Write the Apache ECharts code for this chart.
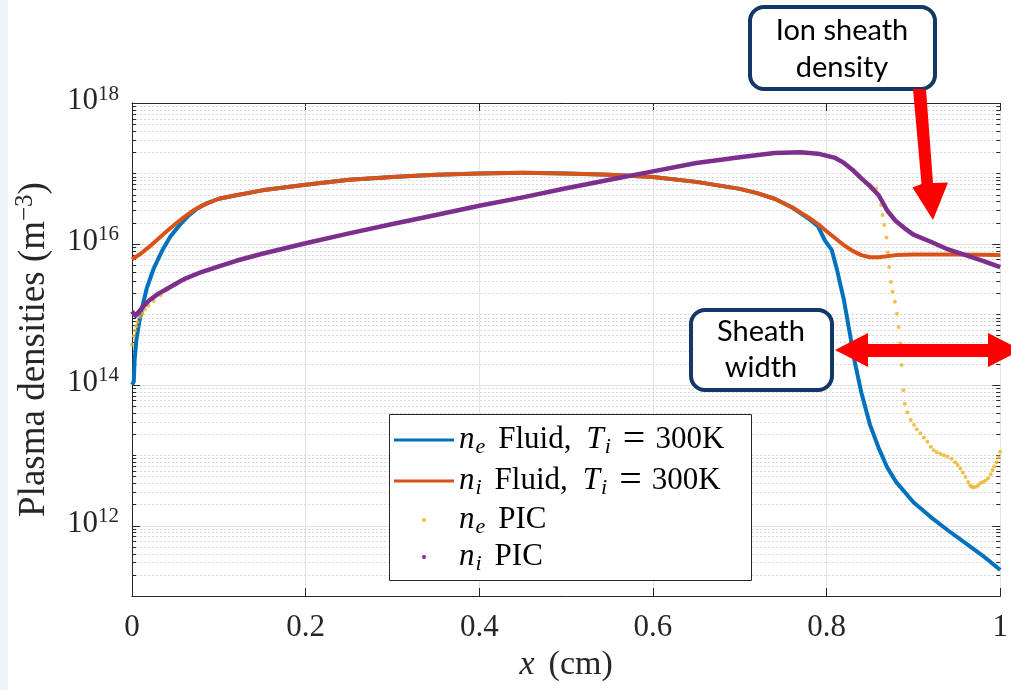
<!DOCTYPE html>
<html><head><meta charset="utf-8">
<script src="https://cdn.jsdelivr.net/npm/echarts@6/dist/echarts.min.js"></script>
<style>html,body{margin:0;padding:0;background:#fff}#c{width:1011px;height:690px}</style>
</head><body><div id="c"></div>
<script>
// ---------- data (x in cm, densities in m^-3) ----------
const neFluidX = [0, 0.002, 0.003, 0.005, 0.008, 0.012, 0.017, 0.025, 0.035, 0.044, 0.055, 0.065, 0.075, 0.085, 0.1, 0.12, 0.15, 0.2, 0.25, 0.3, 0.35, 0.4, 0.45, 0.5, 0.55, 0.6, 0.65, 0.7, 0.72, 0.74, 0.76, 0.78, 0.79, 0.798, 0.806, 0.812, 0.82, 0.826, 0.832, 0.84, 0.85, 0.86, 0.87, 0.88, 0.9, 0.92, 0.94, 0.96, 0.98, 1.0];
const neFluidY = [1.00e14, 1.10e14, 2.24e14, 4.27e14, 7.41e14, 1.29e15, 2.34e15, 4.47e15, 8.13e15, 1.26e16, 1.86e16, 2.51e16, 3.16e16, 3.72e16, 4.37e16, 4.90e16, 5.75e16, 6.92e16, 8.13e16, 8.91e16, 9.55e16, 1.00e17, 1.02e17, 1.00e17, 9.55e16, 8.91e16, 7.59e16, 6.03e16, 5.25e16, 4.37e16, 3.31e16, 2.24e16, 1.78e16, 1.12e16, 8.13e15, 4.27e15, 1.58e15, 6.03e14, 2.24e14, 7.76e13, 2.69e13, 1.26e13, 6.61e12, 4.17e12, 2.14e12, 1.32e12, 8.51e11, 5.62e11, 3.72e11, 2.34e11];

const niFluidX = [0, 0.01, 0.02, 0.03, 0.04, 0.05, 0.06, 0.07, 0.08, 0.1, 0.12, 0.15, 0.2, 0.25, 0.3, 0.35, 0.4, 0.45, 0.5, 0.55, 0.6, 0.65, 0.7, 0.72, 0.74, 0.76, 0.78, 0.79, 0.8, 0.81, 0.82, 0.83, 0.84, 0.85, 0.86, 0.88, 0.9, 0.95, 1.0];
const niFluidY = [6.03e15, 7.24e15, 9.12e15, 1.17e16, 1.51e16, 1.91e16, 2.40e16, 2.95e16, 3.47e16, 4.37e16, 4.90e16, 5.75e16, 6.92e16, 8.13e16, 8.91e16, 9.55e16, 1.00e17, 1.02e17, 1.00e17, 9.55e16, 8.91e16, 7.59e16, 6.03e16, 5.25e16, 4.37e16, 3.31e16, 2.34e16, 1.91e16, 1.51e16, 1.20e16, 9.55e15, 7.94e15, 6.92e15, 6.46e15, 6.46e15, 6.92e15, 7.08e15, 7.08e15, 6.92e15];

const nePicX = [0, 0.002, 0.0035, 0.005, 0.0065, 0.009, 0.012, 0.015, 0.019, 0.025, 0.033, 0.04, 0.05, 0.06, 0.08, 0.1, 0.12, 0.15, 0.2, 0.25, 0.3, 0.35, 0.4, 0.45, 0.5, 0.55, 0.6, 0.65, 0.7, 0.74, 0.77, 0.79, 0.81, 0.82, 0.83, 0.84, 0.85, 0.857, 0.861, 0.8626, 0.8644, 0.8664, 0.869, 0.8705, 0.872, 0.874, 0.876, 0.8786, 0.881, 0.883, 0.885, 0.8862, 0.8884, 0.890, 0.893, 0.897, 0.9007, 0.904, 0.908, 0.912, 0.916, 0.92, 0.9234, 0.927, 0.931, 0.935, 0.939, 0.944, 0.948, 0.951, 0.954, 0.957, 0.96, 0.963, 0.9654, 0.967, 0.969, 0.972, 0.9746, 0.977, 0.980, 0.983, 0.986, 0.989, 0.991, 0.993, 0.9957, 0.998, 0.9997];
const nePicY = [3.72e14, 4.90e14, 5.89e14, 6.76e14, 7.76e14, 9.12e14, 1.02e15, 1.17e15, 1.32e15, 1.55e15, 1.86e15, 2.19e15, 2.63e15, 3.09e15, 3.98e15, 4.79e15, 5.75e15, 7.24e15, 1.02e16, 1.41e16, 1.91e16, 2.57e16, 3.47e16, 4.57e16, 6.17e16, 8.13e16, 1.07e17, 1.41e17, 1.70e17, 1.95e17, 2.00e17, 1.91e17, 1.66e17, 1.41e17, 1.12e17, 8.51e16, 6.92e16, 6.17e16, 4.68e16, 3.55e16, 2.57e16, 1.86e16, 1.23e16, 7.59e15, 4.68e15, 2.88e15, 2.09e15, 1.51e15, 1.02e15, 6.61e14, 3.89e14, 1.91e14, 8.32e13, 5.37e13, 4.07e13, 3.16e13, 2.69e13, 2.34e13, 2.04e13, 1.78e13, 1.55e13, 1.32e13, 1.17e13, 1.10e13, 1.05e13, 1.00e13, 9.55e12, 8.91e12, 7.94e12, 7.24e12, 6.46e12, 5.62e12, 4.90e12, 4.17e12, 3.72e12, 3.55e12, 3.47e12, 3.55e12, 3.72e12, 3.98e12, 4.17e12, 4.37e12, 4.68e12, 5.37e12, 6.17e12, 6.92e12, 7.94e12, 9.33e12, 1.12e13];

const niPicX = [0, 0.004, 0.013, 0.02, 0.03, 0.04, 0.05, 0.06, 0.08, 0.1, 0.12, 0.15, 0.2, 0.25, 0.3, 0.35, 0.4, 0.45, 0.5, 0.55, 0.6, 0.65, 0.7, 0.74, 0.77, 0.79, 0.81, 0.82, 0.83, 0.84, 0.85, 0.86, 0.87, 0.88, 0.89, 0.9, 0.92, 0.94, 0.96, 0.98, 1.0];
const niPicY = [1.10e15, 9.55e14, 1.29e15, 1.58e15, 1.95e15, 2.29e15, 2.69e15, 3.16e15, 3.98e15, 4.79e15, 5.75e15, 7.24e15, 1.02e16, 1.41e16, 1.91e16, 2.57e16, 3.47e16, 4.57e16, 6.17e16, 8.13e16, 1.07e17, 1.41e17, 1.70e17, 1.95e17, 2.00e17, 1.91e17, 1.66e17, 1.41e17, 1.12e17, 8.51e16, 6.61e16, 4.90e16, 2.95e16, 2.09e16, 1.66e16, 1.35e16, 1.07e16, 8.32e15, 6.92e15, 5.75e15, 4.68e15];

const seriesNames = ['ne Fluid', 'ni Fluid', 'ne PIC', 'ni PIC'];
const yLabelExponents = [12, 14, 16, 18];
const xTickInterval = 0.2;

// ---------- helpers ----------
const zip = (xs, ys) => xs.map((x, i) => [x, ys[i]]);
const legendLabels = {
  'ne Fluid': '{it|n}{sub|e}{w|Fluid,}{itT|T}{sub|i}{eq|=}{rm|300K}',
  'ni Fluid': '{it|n}{sub|i}{w|Fluid,}{itT|T}{sub|i}{eq|=}{rm|300K}',
  'ne PIC': '{it|n}{sub|e}{w|PIC}',
  'ni PIC': '{it|n}{sub|i}{w|PIC}'
};
// decade / sub-decade grid marks for the log axis (layout, not data)
const gridMarks = [];
for (let e = 11; e < 18; e++) {
  for (let m = 1; m <= 9; m++) {
    gridMarks.push([0, m * Math.pow(10, e), (m === 1 && e % 2 === 0) ? 1 : 0]);
  }
}
gridMarks.push([0, 1e18, 1]);

const SERIF = 'Liberation Serif';
const AX = '#262626';
const lineIcon = 'path://M0 0M60 14M0 5.5L60 5.5L60 8.5L0 8.5Z';
const dotIcon = 'path://M0 0M60 14M28 7A2 2 0 1 0 32 7A2 2 0 1 0 28 7Z';
const LF = 31;

const chart = echarts.init(document.getElementById('c'));
chart.setOption({
  animation: false,
  backgroundColor: '#fff',
  textStyle: { fontFamily: SERIF },
  grid: { left: 132, top: 103, right: 4, bottom: 94, containLabel: false },
  xAxis: [{
    type: 'value', min: 0, max: 1, interval: xTickInterval, position: 'bottom',
    axisLine: { show: true, lineStyle: { color: AX, width: 1 } },
    axisTick: { show: true, inside: true, length: 8, lineStyle: { color: AX } },
    splitLine: { show: true, lineStyle: { color: '#e3e3e3', width: 1 } },
    axisLabel: { margin: 16, color: AX, fontFamily: SERIF, fontSize: 31 },
    name: '{it|x}{rm|(cm)}', nameLocation: 'middle', nameGap: 50,
    nameTextStyle: { color: AX, fontFamily: SERIF, fontSize: 34, rich: {
      it: { fontFamily: SERIF, fontSize: 34, fontStyle: 'italic', color: AX },
      rm: { fontFamily: SERIF, fontSize: 34, color: AX, padding: [0, 0, 0, 14] } } }
  }, {
    type: 'value', min: 0, max: 1, interval: xTickInterval, position: 'top',
    axisLine: { show: true, lineStyle: { color: AX, width: 1 } },
    axisTick: { show: true, inside: true, length: 8, lineStyle: { color: AX } },
    splitLine: { show: false }, axisLabel: { show: false }
  }],
  yAxis: [{
    type: 'log', logBase: 10, min: 1e11, max: 1e18, position: 'left',
    axisLine: { show: true, lineStyle: { color: AX, width: 1 } },
    axisTick: { show: false }, splitLine: { show: false },
    axisLabel: {
      margin: 13, color: AX,
      formatter: v => {
        const e = Math.round(Math.log10(v));
        return yLabelExponents.includes(e) ? '{b|10}{s|' + e + '}' : '';
      },
      rich: {
        b: { fontFamily: SERIF, fontSize: 31, lineHeight: 34, color: AX, padding: [0, 0, 4, 0] },
        s: { fontFamily: SERIF, fontSize: 21, lineHeight: 20, padding: [0, 0, 18, 0], color: AX }
      }
    },
    name: '{r|Plasma densities (m}{s|−3}{r|)}', nameLocation: 'middle', nameGap: 74,
    nameTextStyle: { fontFamily: SERIF, fontSize: 37, color: AX, rich: {
      r: { fontFamily: SERIF, fontSize: 37, fontStyle: 'normal', lineHeight: 42, color: AX },
      s: { fontFamily: SERIF, fontSize: 25, fontStyle: 'normal', lineHeight: 24, padding: [0, 0, 18, 0], color: AX } } }
  }, {
    type: 'log', logBase: 10, min: 1e11, max: 1e18, position: 'right',
    axisLine: { show: true, lineStyle: { color: AX, width: 1 } },
    axisTick: { show: false }, splitLine: { show: false }, axisLabel: { show: false }
  }],
  legend: {
    orient: 'vertical', left: 394, top: 420, padding: 0, itemGap: 1,
    itemWidth: 60, itemHeight: 14, itemStyle: { borderWidth: 0 },
    data: [
      { name: 'ne Fluid', icon: lineIcon },
      { name: 'ni Fluid', icon: lineIcon },
      { name: 'ne PIC', icon: dotIcon },
      { name: 'ni PIC', icon: dotIcon }
    ],
    formatter: n => legendLabels[n],
    textStyle: {
      color: '#000', fontFamily: SERIF, fontSize: LF, lineHeight: 34,
      rich: {
        it: { fontFamily: SERIF, fontSize: LF, fontStyle: 'italic', lineHeight: 34, color: '#000' },
        itT: { fontFamily: SERIF, fontSize: LF, fontStyle: 'italic', lineHeight: 34, color: '#000', padding: [0, 0, 0, 15] },
        rm: { fontFamily: SERIF, fontSize: LF, lineHeight: 34, color: '#000' },
        w: { fontFamily: SERIF, fontSize: LF, lineHeight: 34, color: '#000', padding: [0, 0, 0, 13] },
        eq: { fontFamily: SERIF, fontSize: 40, lineHeight: 34, color: '#000', padding: [0, 10, 0, 12] },
        sub: { fontFamily: SERIF, fontSize: 22, fontStyle: 'italic', lineHeight: 20, padding: [14, 0, 0, 1], color: '#000' }
      }
    }
  },
  series: [
    {
      type: 'custom', name: 'grid', silent: true, z: 1, clip: false,
      encode: { x: 0, y: 1 },
      data: gridMarks,
      renderItem: (params, api) => {
        const cs = params.coordSys;
        const y = Math.round(api.coord([0, api.value(1)])[1]) + 0.5;
        const major = api.value(2) === 1;
        const ch = [];
        if (y > cs.y + 1 && y < cs.y + cs.height - 1) {
          ch.push({ type: 'line', shape: { x1: cs.x, y1: y, x2: cs.x + cs.width, y2: y },
            style: major ? { stroke: '#e3e3e3', lineWidth: 1 } : { stroke: '#d9d9d9', lineWidth: 1, lineDash: [2, 2] } });
        }
        const tl = major ? 8 : 4;
        ch.push({ type: 'line', shape: { x1: cs.x, y1: y, x2: cs.x + tl, y2: y }, style: { stroke: AX, lineWidth: 1 } });
        ch.push({ type: 'line', shape: { x1: cs.x + cs.width - tl, y1: y, x2: cs.x + cs.width, y2: y }, style: { stroke: AX, lineWidth: 1 } });
        return { type: 'group', children: ch };
      }
    },
    { type: 'line', name: seriesNames[0], data: zip(neFluidX, neFluidY), showSymbol: false, z: 3,
      color: '#0072BD', lineStyle: { width: 4, color: '#0072BD', join: 'round' } },
    { type: 'line', name: seriesNames[1], data: zip(niFluidX, niFluidY), showSymbol: false, z: 3,
      color: '#D95319', lineStyle: { width: 4, color: '#D95319', join: 'round' } },
    { type: 'scatter', name: seriesNames[2], data: zip(nePicX, nePicY), symbolSize: 4, z: 4,
      color: '#EDB120', itemStyle: { color: '#EDB120' } },
    { type: 'line', name: seriesNames[3], data: zip(niPicX, niPicY), showSymbol: false, z: 5,
      color: '#7E2F8E', lineStyle: { width: 4.5, color: '#7E2F8E', join: 'round' } }
  ],
  graphic: [
    { type: 'rect', shape: { x: 0, y: 0, width: 8, height: 690 }, style: { fill: '#edf4fb' }, z: 0, silent: true },
    { type: 'rect', shape: { x: 389.5, y: 414.5, width: 362, height: 166 }, style: { fill: '#fff', stroke: AX, lineWidth: 1 }, z: 3, silent: true },
    { type: 'rect', shape: { x: 750, y: 7, width: 185, height: 82, r: 14 }, style: { fill: '#fff', stroke: '#133866', lineWidth: 4 }, z: 20 },
    { type: 'text', x: 842, y: 49, z: 21, style: { text: 'Ion sheath\ndensity', fontFamily: 'Lato', fontSize: 29, lineHeight: 37, fill: '#000', align: 'center', verticalAlign: 'middle' } },
    { type: 'rect', shape: { x: 691, y: 310, width: 141, height: 80, r: 14 }, style: { fill: '#fff', stroke: '#133866', lineWidth: 4 }, z: 20 },
    { type: 'text', x: 761, y: 350, z: 21, style: { text: 'Sheath\nwidth', fontFamily: 'Lato', fontSize: 29, lineHeight: 36, fill: '#000', align: 'center', verticalAlign: 'middle' } },
    { type: 'polygon', z: 22, shape: { points: [[913, 89], [926, 89], [933, 183], [948, 182.5], [933, 220], [912.5, 187.5], [921.5, 184]] }, style: { fill: '#ff0000' } },
    { type: 'polygon', z: 22, shape: { points: [[835, 350], [868, 333], [868, 344], [988, 344], [988, 333], [1021, 350], [988, 367], [988, 357], [868, 357], [868, 367]] }, style: { fill: '#ff0000' } }
  ]
});
</script>
</body></html>
